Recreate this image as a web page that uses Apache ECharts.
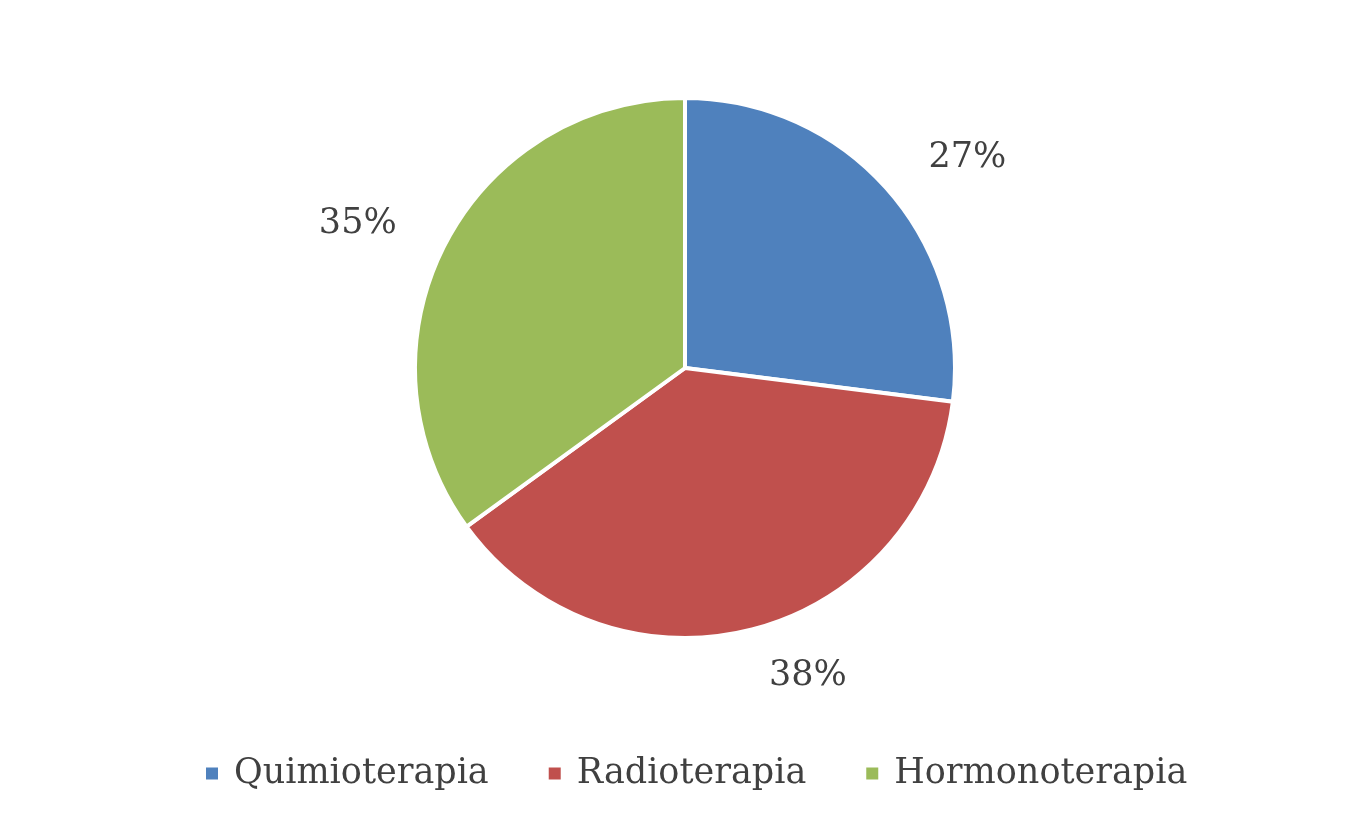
<!DOCTYPE html>
<html>
<head>
<meta charset="utf-8">
<script src="https://cdn.jsdelivr.net/npm/echarts@6/dist/echarts.min.js"></script>
<style>html,body{margin:0;padding:0;background:#fff;}#c{width:1370px;height:839px;}</style>
</head>
<body>
<div id="c"></div>
<script>
const categories = ['Quimioterapia', 'Radioterapia', 'Hormonoterapia'];
const values = [27, 38, 35];
const colors = ['#4F81BD', '#C0504D', '#9BBB59'];

const chart = echarts.init(document.getElementById('c'), null, {renderer: 'canvas'});
const fontFamily = '"DejaVu Serif", "Liberation Serif", serif';
chart.setOption({
  animation: false,
  backgroundColor: '#ffffff',
  color: colors,
  legend: {
    data: categories,
    left: 204,
    top: 756,
    padding: 0,
    icon: 'rect',
    itemWidth: 14,
    itemHeight: 14,
    itemGap: 58,
    textStyle: {fontFamily: fontFamily, fontSize: 35, color: '#404040', padding: [0, 0, 0, 10]}
  },
  series: [{
    type: 'pie',
    center: [685, 368],
    radius: [0, 270],
    startAngle: 90,
    clockwise: true,
    data: categories.map((n, i) => ({name: n, value: values[i]})),
    itemStyle: {borderColor: '#ffffff', borderWidth: 4},
    label: {
      show: true,
      position: 'outside',
      formatter: p => Math.round(p.percent) + '%',
      fontFamily: fontFamily,
      fontSize: 35,
      color: '#404040'
    },
    labelLine: {show: false, length: 48, length2: 0}
  }]
});
</script>
</body>
</html>
